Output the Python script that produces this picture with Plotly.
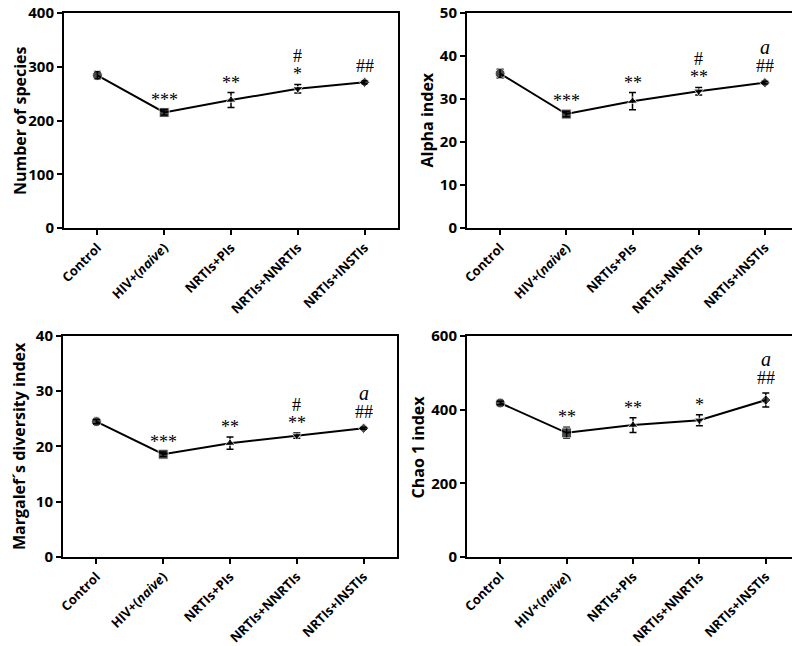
"""Indices de diversidade por grupo de tratamento (4 paineis)"""

import plotly.graph_objects as go

# categorias do eixo x
grupos = ["Control", "HIV+(<i>naive</i>)", "NRTIs+PIs", "NRTIs+NNRTIs", "NRTIs+INSTIs"]
simbolos = ["circle", "square", "triangle-up", "triangle-down", "diamond"]
tamanhos = [10, 10, 9, 9, 8]

# medias e erros
especies = [284, 215, 238, 259, 271]
especies_err = [7, 5, 14, 8, 3]
alpha = [35.9, 26.5, 29.5, 31.8, 33.8]
alpha_err = [1.0, 0.6, 2.0, 0.9, 0.3]
margalef = [24.5, 18.6, 20.6, 22.0, 23.3]
margalef_err = [0.4, 0.4, 1.1, 0.5, 0.2]
chao = [418, 337, 358, 371, 426]
chao_err = [5, 15, 20, 15, 19]

# marcas de significancia (de baixo para cima)
estrelas_especies = ["", "***", "**", "*", ""]
estrelas_alpha = ["", "***", "**", "**", ""]
estrelas_margalef = ["", "***", "**", "**", ""]
estrelas_chao = ["", "**", "**", "*", ""]
hash_especies = ["", "", "", "#", "##"]
hash_alpha = ["", "", "", "#", "##"]
hash_margalef = ["", "", "", "#", "##"]
hash_chao = ["", "", "", "", "##"]
letra_especies = ["", "", "", "", ""]
letra_alpha = ["", "", "", "", "a"]
letra_margalef = ["", "", "", "", "a"]
letra_chao = ["", "", "", "", "a"]

# deslocamento (px) acima da barra de erro, por tipo de marca e nivel na pilha
desloc = {("est", 0): 10, ("hs", 0): 15, ("hs", 1): 28, ("le", 1): 34}

# a pagina html tem 8px de margem no body, por isso os dominios ja descontam esse deslocamento
paineis = [
	dict(y=especies, err=especies_err, titulo="Number of species", faixa=[0, 400], dtick=100,
		 est=estrelas_especies, hs=hash_especies, le=letra_especies,
		 xdom=[0.07, 0.4875], ydom=[0.6594, 0.9923], tx=0.0144),
	dict(y=alpha, err=alpha_err, titulo="Alpha index", faixa=[0, 50], dtick=10,
		 est=estrelas_alpha, hs=hash_alpha, le=letra_alpha,
		 xdom=[0.57375, 0.9875], ydom=[0.6594, 0.9923], tx=0.52375),
	dict(y=margalef, err=margalef_err, titulo="Margalef´s diversity index", faixa=[0, 40], dtick=10,
		 est=estrelas_margalef, hs=hash_margalef, le=letra_margalef,
		 xdom=[0.06875, 0.48625], ydom=[0.1502, 0.4923], tx=0.0144),
	dict(y=chao, err=chao_err, titulo="Chao 1 index", faixa=[0, 600], dtick=200,
		 est=estrelas_chao, hs=hash_chao, le=letra_chao,
		 xdom=[0.57375, 0.98875], ydom=[0.1502, 0.4923], tx=0.5125),
]

fig = go.Figure()
anotacoes = []

for i, p in enumerate(paineis):
	n = "" if i == 0 else str(i + 1)
	xa, ya = "x" + n, "y" + n
	fig.add_trace(go.Scatter(
		x=list(range(len(grupos))), y=p["y"], xaxis=xa, yaxis=ya,
		mode="lines+markers",
		line=dict(color="black", width=2),
		marker=dict(symbol=simbolos, size=tamanhos, color="black"),
		error_y=dict(type="data", array=p["err"], color="black", thickness=1.5, width=3.5),
		showlegend=False,
	))

	eixo_x = dict(
		domain=p["xdom"], anchor=ya, range=[-0.5, 4.5], automargin=False,
		tickmode="array", tickvals=list(range(len(grupos))), ticktext=grupos,
		tickangle=-45, ticks="outside", ticklen=5, tickwidth=2, tickcolor="black",
		ticklabeloverflow="allow",
		showline=True, linecolor="black", linewidth=2, mirror=True,
		showgrid=False, zeroline=False,
		tickfont=dict(family="Open Sans", size=13, color="black", weight="bold"),
	)
	eixo_y = dict(
		domain=p["ydom"], anchor=xa, range=p["faixa"], dtick=p["dtick"], automargin=False,
		ticks="outside", ticklen=5, tickwidth=2, tickcolor="black",
		ticklabeloverflow="allow",
		showline=True, linecolor="black", linewidth=2, mirror=True,
		showgrid=False, zeroline=False,
		tickfont=dict(family="Open Sans", size=15, color="black", weight="bold"),
	)
	fig.update_layout({"xaxis" + n: eixo_x, "yaxis" + n: eixo_y})

	# titulo do eixo y
	anotacoes.append(dict(
		x=p["tx"], y=sum(p["ydom"]) / 2, xref="paper", yref="paper",
		text=p["titulo"], textangle=-90, showarrow=False,
		xanchor="center", yanchor="middle",
		font=dict(family="Open Sans", size=16, color="black", weight="bold"),
	))

	# empilha as marcas acima da barra de erro
	for k in range(len(grupos)):
		topo = p["y"][k] + p["err"][k]
		nivel = 0
		for tipo, fonte in [("est", 18), ("hs", 18), ("le", 20)]:
			texto = p[tipo][k]
			if not texto:
				continue
			rotulo = "<i>" + texto + "</i>" if tipo == "le" else texto
			anotacoes.append(dict(
				x=k, y=topo, xref=xa, yref=ya, text=rotulo, showarrow=False,
				yanchor="middle", yshift=desloc[(tipo, nivel)], height=14,
				font=dict(family="Liberation Serif", size=fonte, color="black"),
			))
			nivel += 1

fig.update_layout(
	annotations=anotacoes,
	width=800, height=646,
	margin=dict(l=0, r=0, t=0, b=0),
	plot_bgcolor="white", paper_bgcolor="white",
)

fig.write_html("out.html")
